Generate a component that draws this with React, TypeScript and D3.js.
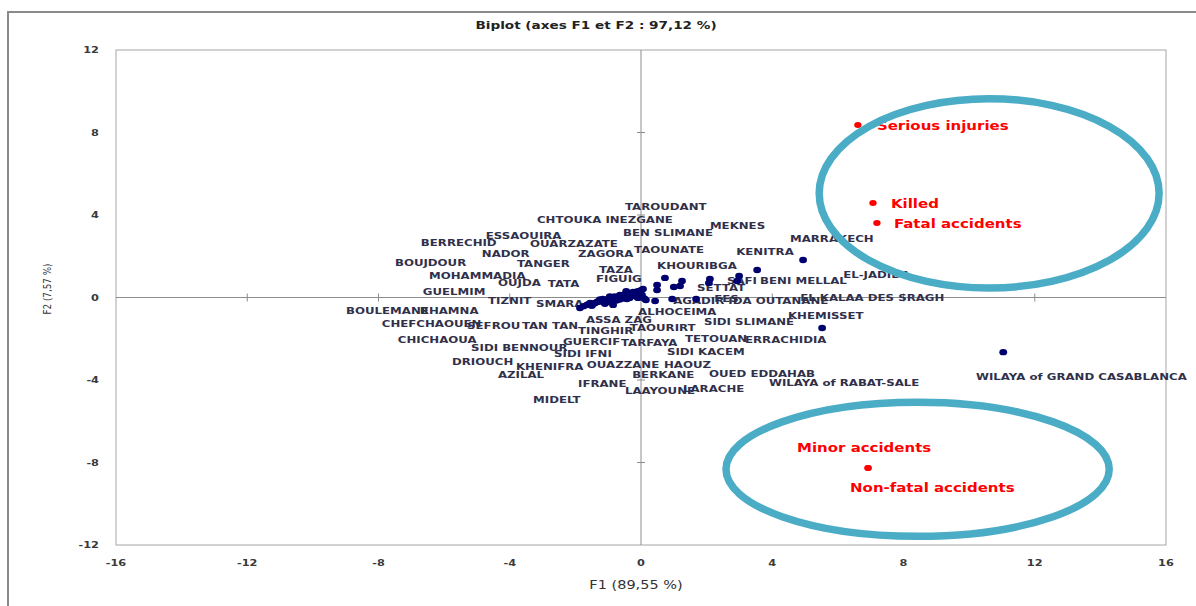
import React from "react";
import * as d3 from "d3";

// Regions (provinces / wilayas) with their F1/F2 scores
const cities = [
  "TAROUDANT", "CHTOUKA INEZGANE", "MEKNES", "BEN SLIMANE", "ESSAOUIRA", "BERRECHID",
  "OUARZAZATE", "NADOR", "ZAGORA", "TAOUNATE", "KENITRA", "MARRAKECH", "BOUJDOUR",
  "TANGER", "KHOURIBGA", "TAZA", "MOHAMMADIA", "OUJDA", "TATA", "FIGUIG", "SETTAT",
  "SAFI", "BENI MELLAL", "EL-JADIDA", "GUELMIM", "TIZNIT", "SMARA", "FES",
  "AGADIR IDA OUTANANE", "EL KALAA DES SRAGH", "BOULEMANE", "RHAMNA", "ALHOCEIMA",
  "KHEMISSET", "CHEFCHAOUEN", "SEFROU", "TAN TAN", "ASSA ZAG", "TINGHIR", "TAOURIRT",
  "SIDI SLIMANE", "CHICHAOUA", "GUERCIF", "TARFAYA", "TETOUAN", "ERRACHIDIA",
  "SIDI BENNOUR", "SIDI IFNI", "SIDI KACEM", "DRIOUCH", "KHENIFRA", "OUAZZANE", "HAOUZ",
  "AZILAL", "BERKANE", "OUED EDDAHAB", "WILAYA of RABAT-SALE", "WILAYA of GRAND CASABLANCA",
  "IFRANE", "LAAYOUNE", "LARACHE", "MIDELT",
];

const cityF1 = [
  0.03, 0.06, 2.93, -0.24, -0.88, -0.64, -1.2, 0.49, -0.8, -0.7, 2.07, 4.94, -1.86,
  2.99, -0.43, -0.12, 0.43, 0.49, 0.0, -0.1, 1.19, 0.73, 1.0, 1.25, -1.6, -1.45, -1.75,
  3.54, 2.1, 1.68, -0.2, -1.25, -1.34, 0.95, -0.45, -0.75, -1.1, -0.95, -0.3, -1.55,
  -0.85, -1.1, -0.9, -0.65, 0.15, -1.16, -1.4, -0.35, -0.09, -0.55, -1.65, -0.5, -0.95,
  -1.3, -1.0, 0.1, 5.52, 11.04, -0.6, -0.15, -0.4, -1.5,
];

const cityF2 = [
  0.12, 0.41, 0.8, 0.27, 0.02, 0.12, -0.2, 0.36, 0.05, 0.02, 0.7, 1.82, -0.51,
  1.04, -0.07, 0.22, -0.17, 0.61, 0.35, 0.3, 0.56, 0.95, 0.51, 0.8, -0.33, -0.3, -0.42,
  1.33, 0.9, -0.07, 0.1, -0.1, -0.22, -0.07, 0.3, -0.15, -0.3, 0.05, 0.2, -0.27,
  -0.36, -0.12, -0.1, -0.1, -0.12, -0.07, -0.27, -0.02, -0.02, -0.05, -0.36, 0.15, -0.22,
  -0.18, -0.08, -0.05, -1.48, -2.65, 0.05, 0.05, 0.22, -0.4,
];

// Label anchors (left edge, middle) in F1/F2 units, spread out to limit overlap
const cityLabelAt: [number, number][] = [
  [-0.49, 4.39], [-3.17, 3.76], [2.1, 3.47], [-0.55, 3.13], [-4.73, 2.99], [-6.71, 2.65],
  [-3.38, 2.6], [-4.85, 2.11], [-1.92, 2.11], [-0.21, 2.31], [2.9, 2.21], [4.54, 2.84],
  [-7.5, 1.67], [-3.78, 1.63], [0.49, 1.53], [-1.28, 1.33], [-6.46, 1.04], [-4.36, 0.7],
  [-2.84, 0.66], [-1.37, 0.9], [1.71, 0.46], [2.62, 0.8], [3.63, 0.8], [6.16, 1.09],
  [-6.65, 0.27], [-4.66, -0.17], [-3.2, -0.32], [2.23, -0.07], [0.98, -0.17], [4.85, -0.02],
  [-8.99, -0.66], [-6.74, -0.66], [-0.09, -0.7], [4.48, -0.9], [-7.9, -1.29], [-5.3, -1.38],
  [-3.63, -1.38], [-1.68, -1.09], [-1.92, -1.63], [-0.34, -1.48], [1.92, -1.19],
  [-7.41, -2.06], [-2.38, -2.16], [-0.61, -2.21], [1.34, -2.01], [3.17, -2.06],
  [-5.18, -2.45], [-2.65, -2.74], [0.79, -2.65], [-5.76, -3.13], [-3.81, -3.37],
  [-1.65, -3.28], [0.7, -3.28], [-4.36, -3.76], [-0.27, -3.76], [2.07, -3.71],
  [3.9, -4.15], [10.21, -3.86], [-1.92, -4.2], [-0.49, -4.54], [1.28, -4.44], [-3.29, -4.98],
];

// Variables (accident indicators)
const variables = ["Serious injuries", "Killed", "Fatal accidents", "Minor accidents", "Non-fatal accidents"];
const varF1 = [6.61, 7.07, 7.19, 6.92, 6.92];
const varF2 = [8.36, 4.58, 3.61, -8.27, -8.27];
// label offsets from the point, in px
const varLabelOffset: [number, number][] = [[19, 1], [18, 1], [17, 1], [-71, -20], [-18, 20]];

// Group highlights: [cx, cy, rx, ry] in F1/F2 units
const groupEllipses: [number, number, number, number][] = [
  [10.61, 5.05, 5.18, 4.59],
  [8.43, -8.33, 5.84, 3.25],
];

const xTicks = [-16, -12, -8, -4, 0, 4, 8, 12, 16];
const yTicks = [-12, -8, -4, 0, 4, 8, 12];

const W = 1196;
const H = 606;
const SX = 1.26; // horizontal text stretch
const FONT = "'DejaVu Sans', sans-serif";

function SText(props: {
  x: number; y: number; size: number; weight?: string | number; fill?: string;
  anchor?: string; rotate?: number; sx?: number; children: React.ReactNode;
}) {
  const { x, y, size, weight = "bold", fill = "#333", anchor = "start", rotate = 0, sx = SX, children } = props;
  return (
    <text
      transform={`translate(${x},${y}) scale(${sx},1)${rotate ? ` rotate(${rotate})` : ""}`}
      fontFamily={FONT}
      fontSize={size}
      fontWeight={weight}
      fill={fill}
      textAnchor={anchor}
      dy="0.35em"
    >
      {children}
    </text>
  );
}

export default function App() {
  const x = d3.scaleLinear().domain([-16, 16]).range([116, 1166]);
  const y = d3.scaleLinear().domain([-12, 12]).range([545, 50]);
  const x0 = x(0);
  const y0 = y(0);

  return (
    <svg
      width={W}
      height={H}
      viewBox={`0 0 ${W} ${H}`}
      style={{ position: "absolute", left: 0, top: 0, background: "#fff" }}
    >
      <rect x={0} y={0} width={W} height={H} fill="#fff" />
      {/* outer chart frame */}
      <rect x={8} y={12} width={W} height={H} fill="none" stroke="#8a8a8a" strokeWidth={2} />

      <SText x={596} y={25} size={10.8} fill="#222">
        <tspan textAnchor="middle">Biplot (axes F1 et F2 : 97,12 %)</tspan>
      </SText>

      {/* plot area */}
      <rect x={x(-16)} y={y(12)} width={x(16) - x(-16)} height={y(-12) - y(12)} fill="none" stroke="#a6a6a6" strokeWidth={1} />
      <line x1={x(-16)} x2={x(16)} y1={y0} y2={y0} stroke="#8c8c8c" strokeWidth={1} />
      <line x1={x0} x2={x0} y1={y(12)} y2={y(-12)} stroke="#8c8c8c" strokeWidth={1} />
      {xTicks.filter((t) => t !== 0 && Math.abs(t) !== 16).map((t) => (
        <line key={`xt${t}`} x1={x(t)} x2={x(t)} y1={y0 - 4} y2={y0 + 4} stroke="#8c8c8c" />
      ))}
      {yTicks.filter((t) => t !== 0 && Math.abs(t) !== 12).map((t) => (
        <line key={`yt${t}`} x1={x0 - 4} x2={x0 + 4} y1={y(t)} y2={y(t)} stroke="#8c8c8c" />
      ))}

      {/* tick labels */}
      {yTicks.map((t) => (
        <SText key={`yl${t}`} x={99} y={y(t)} size={9} anchor="end" fill="#3a3a3a">{t}</SText>
      ))}
      {xTicks.map((t) => (
        <SText key={`xl${t}`} x={x(t)} y={563} size={9} anchor="middle" fill="#3a3a3a">{t}</SText>
      ))}

      {/* axis titles */}
      <SText x={636} y={585} size={11.5} weight="normal" anchor="middle" fill="#333">F1 (89,55 %)</SText>
      <SText x={47} y={289} size={8.8} weight="normal" anchor="middle" rotate={-90} fill="#333">F2 (7,57 %)</SText>

      {/* region labels */}
      {cities.map((c, i) => (
        <SText key={`cl${c}`} x={x(cityLabelAt[i][0])} y={y(cityLabelAt[i][1])} size={9} sx={1.31} fill="#30304a">{c}</SText>
      ))}

      {/* region points */}
      {cities.map((c, i) => (
        <ellipse key={`cp${c}`} cx={x(cityF1[i])} cy={y(cityF2[i])} rx={3.9} ry={3.2} fill="#00006e" />
      ))}

      {/* variable points and labels */}
      {variables.map((v, i) => (
        <g key={v}>
          <ellipse cx={x(varF1[i])} cy={y(varF2[i])} rx={3.7} ry={3} fill="#ff0000" />
          <SText x={x(varF1[i]) + varLabelOffset[i][0]} y={y(varF2[i]) + varLabelOffset[i][1]} size={11.9} fill="#ff0000">{v}</SText>
        </g>
      ))}

      {/* highlighted groups */}
      {groupEllipses.map(([cx, cy, rx, ry], i) => (
        <ellipse
          key={`ge${i}`}
          cx={x(cx)}
          cy={y(cy)}
          rx={x(cx + rx) - x(cx)}
          ry={y(cy - ry) - y(cy)}
          fill="none"
          stroke="#4bacc6"
          strokeWidth={7.5}
        />
      ))}
    </svg>
  );
}
